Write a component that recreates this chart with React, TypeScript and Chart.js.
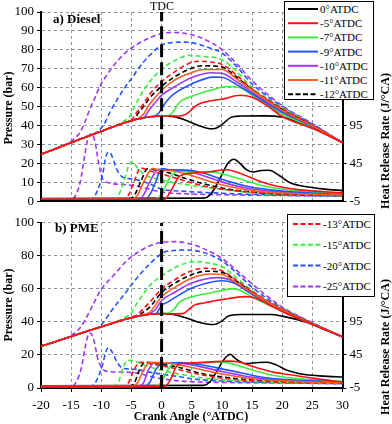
import React, { useEffect, useRef } from "react";
import { Chart, registerables } from "chart.js";

Chart.register(...registerables);

type P = [number, number];

// ---------- axes ----------
const angleRange = [-20, 30];
const angleStep = 5;
const pressureRange = [0, 100];
const pressureStep = 10;
const hrrRange = [-5, 245];
const hrrTicks = [-5, 45, 95];
const tdcAngle = 0;

// ---------- series meta ----------
const timings = ["0°ATDC", "-5°ATDC", "-7°ATDC", "-9°ATDC", "-10°ATDC", "-11°ATDC", "-12°ATDC", "-13°ATDC", "-15°ATDC", "-20°ATDC", "-25°ATDC"];
const colors = ["#000000", "#ff1010", "#3ced3c", "#2255ff", "#a035f5", "#ff5a20", "#000000", "#ff1010", "#3ced3c", "#2255ff", "#a035f5"];
const dashedFlags = [false, false, false, false, false, false, true, true, true, true, true];
const drawOrder = [9, 0, 4, 3, 5, 1, 6, 2, 7, 8, 10];

// ---------- a) Diesel : pressure (bar) ----------
const dieselCompression: P[] = [[-20, 24.8], [-18, 27.2], [-16, 29.7], [-14, 32.2], [-12, 34.6], [-10, 37], [-8, 39.4], [-6, 41.6], [-4, 43.4], [-2, 44.6], [0, 45]];
const dieselP0: P[] = [[0, 45], [2, 44.7], [4, 42.8], [6, 40.2], [8, 38.3], [9, 38.6], [10, 40.5], [11.5, 44.3], [13, 45], [17, 45.1], [20, 44.5], [22, 42.5], [24, 40], [27, 36], [30, 31]];
const dieselPm5: P[] = [[0, 45], [2, 45], [3.5, 45.3], [4.5, 47], [5.5, 50], [6.5, 51.8], [8, 53], [10, 53.9], [13, 56], [15, 55], [17.5, 50.5], [20, 44.8], [25, 38.5], [30, 31]];
const dieselPm7: P[] = [[0, 45], [1, 45.2], [1.7, 46.5], [2.3, 49], [3, 52.3], [4, 54.3], [5, 55.5], [8, 58.5], [10.8, 60.6], [13, 60], [15, 56], [20, 46], [25, 39], [30, 31]];
const dieselPm9: P[] = [[-1.5, 44.6], [-0.5, 46.5], [0, 49], [1, 53.5], [2, 56.6], [5, 62], [8.6, 65.6], [10, 65.5], [12.5, 61.5], [15, 56.7], [20, 47], [25, 39.4], [30, 31]];
const dieselPm10: P[] = [[-3, 44], [-2, 48.5], [-1, 52.3], [0, 56], [2, 60.2], [5, 65.4], [8.3, 67.9], [10, 67.6], [12.5, 63], [15, 57.5], [20, 47.5], [25, 39.6], [30, 31]];
const dieselPm11: P[] = [[-4, 43.5], [-3, 46], [-2, 51.2], [0, 58.5], [2, 63.7], [4, 66.8], [7.2, 69.6], [10, 69.6], [12.5, 64.5], [15, 58.7], [20, 48], [25, 39.8], [30, 31]];
const dieselPm12: P[] = [[-4.5, 43.3], [-4, 46], [-3, 50], [-2, 54.5], [0, 60.7], [2, 65.4], [4, 69], [6.7, 71.6], [9, 71.4], [10, 71], [12.5, 65.5], [15, 59], [20, 48.5], [25, 40], [30, 31]];
const dieselPm13: P[] = [[-5, 43], [-4, 47.5], [-3, 51.5], [-2, 56.5], [0, 63.2], [2, 68], [4, 72], [6, 74], [8, 73.6], [10, 72.3], [12.5, 66.5], [15, 59.3], [20, 49], [25, 40.2], [30, 31]];
const dieselPm15: P[] = [[-6.5, 41.8], [-5.5, 44], [-5, 46.5], [-4, 53], [-3, 58.5], [-2, 63], [0, 69.8], [2, 74], [4.5, 77], [7, 76.5], [10, 74.8], [12.5, 68.5], [15, 60], [20, 49.5], [25, 40.4], [30, 31]];
const dieselPm20: P[] = [[-11, 36], [-10.2, 38], [-9.3, 42], [-8.5, 47.5], [-7.5, 53], [-6, 60.5], [-4.7, 66], [-4, 69.5], [-2, 77], [0, 82.5], [2, 83.9], [3.6, 84.1], [5, 83.8], [7.5, 81.5], [10, 78.3], [12.5, 71], [15, 62], [20, 50], [25, 40.7], [30, 31]];
const dieselPm25: P[] = [[-14.5, 33], [-13.5, 36.5], [-12.7, 42], [-11.9, 48.7], [-11, 55], [-10.2, 61], [-9, 67], [-8, 71.5], [-6, 78.5], [-4, 83], [-2, 86.3], [0, 88.6], [2, 89.2], [5, 88], [7.5, 85], [10, 80.2], [12.5, 72.5], [15, 63.7], [20, 50.5], [25, 41], [30, 31]];

// ---------- a) Diesel : heat release rate (J/°CA) ----------
const dieselH0: P[] = [[-20, -1.5], [7, -1], [8, 3], [9.5, 22], [11, 45], [12, 50.5], [13, 45], [14, 37], [15.2, 33.5], [16.5, 35.5], [17.8, 35.8], [19.5, 29], [21.4, 19], [24.7, 13.5], [27, 11], [30, 9]];
const dieselHm5: P[] = [[-20, -2.5], [0.5, -2.5], [1.5, 8], [3, 28], [5, 32], [8, 34], [10.8, 36.5], [13, 32], [16.4, 21], [19, 15], [23, 10], [30, 6]];
const dieselHm7: P[] = [[-20, -2.5], [-1, -2.5], [0, 5], [1.5, 28], [3, 35], [5, 33], [7, 33.5], [9, 33], [11, 29], [13.6, 23], [17, 15], [22, 9], [30, 5]];
const dieselHm9: P[] = [[-20, -2.5], [-3, -2.5], [-2, 3], [-1, 20], [0, 38], [2, 36], [4, 36], [7, 32], [10, 24], [14, 15], [18, 10], [24, 6], [30, 4]];
const dieselHm10: P[] = [[-20, -2.5], [-4, -2.5], [-3, 3], [-2, 20], [-0.5, 37], [1, 36], [3, 36], [6, 31], [9, 23], [13, 14], [18, 8], [24, 5], [30, 3.5]];
const dieselHm11: P[] = [[-20, -2.5], [-5, -2.5], [-4, 3], [-3, 20], [-1.5, 38], [0, 36], [2, 35], [5, 29], [8, 21], [12, 13], [16, 8], [22, 5], [30, 3]];
const dieselHm12: P[] = [[-20, -2.5], [-5.5, -2.5], [-4.5, 3], [-3.5, 20], [-2.3, 38], [-1, 36], [1, 33], [4, 25], [7, 18], [11, 11], [15, 7], [20, 4.5], [30, 2.5]];
const dieselHm13: P[] = [[-20, -2.5], [-6.5, -2.5], [-5.5, 3], [-4.5, 22], [-3.5, 39], [-2, 35], [0, 31], [3, 24], [6, 17], [10, 11], [15, 7], [20, 4.5], [30, 2.5]];
const dieselHm15: P[] = [[-20, -2.5], [-8, -2.5], [-7.2, 2], [-6.2, 22], [-5.3, 45], [-4.8, 47], [-4.1, 40], [-3, 31], [-1, 25], [1, 21], [5, 16], [10.8, 10], [15, 6], [20, 4], [30, 2]];
const dieselHm20: P[] = [[-20, -2.5], [-12, -2.5], [-11, 3], [-9.8, 30], [-9.2, 55], [-8.8, 60], [-8.3, 56], [-7.5, 38], [-6.5, 27], [-5, 24.5], [-4, 23], [-2, 18], [0, 11], [4, 8], [8.5, 6], [15, 4], [30, 1.5]];
const dieselHm25: P[] = [[-20, -2.5], [-15, -2.5], [-14.3, 2], [-13.5, 20], [-12.7, 58], [-12.1, 81], [-11.6, 84], [-11, 72], [-10.5, 48], [-9.9, 27], [-9.1, 20], [-6.3, 17], [-3.6, 14], [0, 7], [5, 4.5], [10, 3.5], [20, 2.5], [30, 1.5]];

// ---------- b) PME : pressure (bar) ----------
const pmeCompression: P[] = [[-20, 25.3], [-18, 27.6], [-16, 30], [-14, 32.4], [-12, 34.8], [-10, 37.1], [-8, 39.4], [-6, 41.6], [-4, 43.4], [-2, 44.6], [0, 45]];
const pmeP0: P[] = [[0, 45], [2, 44.5], [4, 42.5], [6, 40], [8.6, 38.4], [10, 40.5], [11, 43.5], [13, 44.5], [18, 44.5], [20, 43.5], [24, 39.8], [27, 35.5], [30, 31]];
const pmePm5: P[] = [[0, 45], [2, 44.9], [3.5, 45], [4.5, 47.5], [5.5, 50.3], [7, 51.5], [10, 53.5], [13.9, 55.3], [15.5, 54.5], [17.5, 51], [20, 46.3], [25, 38.5], [30, 31]];
const pmePm7: P[] = [[0, 45], [1, 45.2], [2, 47.5], [3, 52], [5, 55.2], [8, 57.5], [11.7, 60], [13, 59.2], [15, 55], [20, 46.5], [25, 38.5], [30, 31]];
const pmePm9: P[] = [[-1, 44.8], [0, 50], [1, 52], [3, 56.5], [5, 60.5], [7, 63], [10, 64.9], [12, 63.5], [15, 56.7], [20, 46.8], [25, 38.6], [30, 31]];
const pmePm10: P[] = [[-2.5, 44.3], [-1, 47.5], [0, 53], [2, 57.5], [5, 63.5], [9.4, 66.8], [12, 64.5], [15, 57], [20, 47], [25, 38.7], [30, 31]];
const pmePm11: P[] = [[-3.5, 44], [-2, 45.8], [0, 55.2], [2, 60.5], [5, 66.5], [8, 69], [10, 68.7], [12.5, 63.5], [15, 57.5], [20, 47.3], [25, 38.8], [30, 31]];
const pmePm12: P[] = [[-4, 43.5], [-3, 46], [-2, 48.8], [0, 57.8], [2, 63], [4, 67], [7.5, 70.7], [10, 70], [12.5, 64.5], [15, 58], [20, 47.5], [25, 39], [30, 31]];
const pmePm13: P[] = [[-5, 43], [-4, 44.5], [-3, 48], [-2, 51.8], [0, 59.9], [2, 65], [4, 69.5], [7, 72.5], [10, 71], [12.5, 65], [15, 58.5], [20, 47.7], [25, 39], [30, 31]];
const pmePm15: P[] = [[-6.5, 42], [-5.5, 44], [-5, 45.5], [-4, 51.8], [-3, 57], [-2, 61.9], [0, 67.9], [2, 72.5], [4, 75.5], [5.6, 76.5], [8, 75.5], [10, 73.5], [12.5, 66.5], [15, 59], [20, 48], [25, 39], [30, 31]];
const pmePm20: P[] = [[-11, 36], [-10.2, 37.5], [-9.3, 41.5], [-8.5, 45.8], [-7, 53], [-6, 57.5], [-4.7, 63.9], [-2, 75], [0.3, 82], [2, 83.2], [4.2, 83.5], [7, 82], [10, 77], [12.5, 69.5], [15, 61], [20, 48.5], [25, 39.3], [30, 31]];
const pmePm25: P[] = [[-14.5, 33], [-13.5, 36.5], [-12.7, 41], [-12, 46], [-11, 53], [-10.2, 58.8], [-8, 68], [-5.8, 77], [-4, 82], [-2, 86], [0.3, 88.3], [2.2, 88.6], [5, 87], [7.5, 83.5], [10, 78.5], [12.5, 71], [15, 63], [20, 49], [25, 39.5], [30, 31]];

// ---------- b) PME : heat release rate (J/°CA) ----------
const pmeH0: P[] = [[-20, -1.5], [7, -1], [8, 4], [9, 18], [10.5, 40], [11.4, 46], [12.2, 40], [12.8, 36], [14, 32], [16, 33.5], [17.5, 34], [19, 30], [20.8, 22], [24, 15], [27, 13], [30, 11.6]];
const pmeHm5: P[] = [[-20, -2.5], [0.5, -2.5], [1.5, 8], [2.3, 25], [3, 31.7], [5, 33], [8, 34.5], [11, 35.7], [13, 34], [14, 31], [16.4, 24], [18.5, 19], [21.4, 15], [25, 10], [30, 4]];
const pmeHm7: P[] = [[-20, -2.5], [-1, -2.5], [0, 5], [1.2, 25], [2, 32], [3, 34], [5, 32], [7, 33], [9.5, 34], [11, 33], [13, 28], [15.5, 21], [18.6, 14], [23, 9], [30, 5]];
const pmeHm9: P[] = [[-20, -2.5], [-3, -2.5], [-2, 3], [-1, 22], [0, 32], [3, 33], [6, 31], [11, 22], [17, 11], [23, 6.5], [30, 4]];
const pmeHm10: P[] = [[-20, -2.5], [-4, -2.5], [-3, 3], [-2.2, 22], [-1.2, 33], [2, 33], [5, 30], [10, 20], [16, 10], [22, 6], [30, 3.5]];
const pmeHm11: P[] = [[-20, -2.5], [-5, -2.5], [-4, 3], [-3, 22], [-2, 34], [1, 33], [4, 28], [9, 18], [15, 9], [22, 5], [30, 3]];
const pmeHm12: P[] = [[-20, -2.5], [-5.5, -2.5], [-4.5, 3], [-3.7, 22], [-2.8, 34], [0, 31], [3, 26], [7, 16], [14, 8], [20, 5], [30, 3]];
const pmeHm13: P[] = [[-20, -2.5], [-6.5, -2.5], [-5.5, 3], [-4.6, 22], [-3.6, 34], [-1.5, 31], [1, 27], [5, 18], [10, 10], [20, 4], [30, 2.5]];
const pmeHm15: P[] = [[-20, -2.5], [-8, -2.5], [-7.2, 3], [-6.4, 25], [-5.7, 37], [-4.5, 36], [-3.5, 32], [-2, 27], [0, 22], [3, 16], [7, 10], [15, 5], [30, 2]];
const pmeHm20: P[] = [[-20, -2.5], [-12, -2.5], [-11, 3], [-9.8, 30], [-9.2, 51], [-8.8, 56], [-8.3, 51], [-7.5, 36], [-6.5, 25], [-5, 23.5], [-4, 23], [-2, 19], [0, 16], [3, 12], [6, 8], [12, 5], [20, 3], [30, 1.5]];
const pmeHm25: P[] = [[-20, -2.5], [-15, -2.5], [-14.3, 2], [-13.4, 22], [-12.7, 55], [-12.2, 75], [-11.8, 78], [-11.2, 66], [-10.6, 40], [-9.8, 24], [-9, 20], [-6, 19], [-4, 17.5], [-2, 13], [0, 9], [4, 5], [10, 3.5], [20, 2.5], [30, 1.5]];

const dieselPressure = [dieselP0, dieselPm5, dieselPm7, dieselPm9, dieselPm10, dieselPm11, dieselPm12, dieselPm13, dieselPm15, dieselPm20, dieselPm25];
const dieselHrr = [dieselH0, dieselHm5, dieselHm7, dieselHm9, dieselHm10, dieselHm11, dieselHm12, dieselHm13, dieselHm15, dieselHm20, dieselHm25];
const pmePressure = [pmeP0, pmePm5, pmePm7, pmePm9, pmePm10, pmePm11, pmePm12, pmePm13, pmePm15, pmePm20, pmePm25];
const pmeHrr = [pmeH0, pmeHm5, pmeHm7, pmeHm9, pmeHm10, pmeHm11, pmeHm12, pmeHm13, pmeHm15, pmeHm20, pmeHm25];

const FONT = '"Liberation Serif", "Times New Roman", serif';
const GRID = "#8595a5";

function withCompression(comp: P[], pts: P[]) {
  const start = pts[0][0];
  return comp.filter((p) => p[0] < start).concat(pts).map(([x, y]) => ({ x, y }));
}

function buildConfig(compression: P[], pressure: P[][], hrr: P[][], showX: boolean, padTop: number, xHeight: number): any {
  const datasets: any[] = [
    {
      data: [{ x: tdcAngle, y: pressureRange[0] }, { x: tdcAngle, y: pressureRange[1] }],
      borderColor: "#000",
      borderWidth: 3,
      borderDash: [13, 5],
      pointRadius: 0,
      tension: 0,
      order: -1,
      yAxisID: "y",
    },
  ];
  timings.forEach((_, i) => {
    const common = {
      borderColor: colors[i],
      borderWidth: 1.6,
      borderDash: dashedFlags[i] ? [5, 3] : [],
      pointRadius: 0,
      cubicInterpolationMode: "monotone",
      fill: false,
      order: drawOrder[i],
    };
    datasets.push({ ...common, data: withCompression(compression, pressure[i]), yAxisID: "y" });
    datasets.push({ ...common, data: hrr[i].map(([x, y]) => ({ x, y })), yAxisID: "y1" });
  });
  const tickFont = { family: FONT, size: 13 };
  return {
    type: "line",
    data: { datasets },
    options: {
      responsive: false,
      animation: false,
      events: [],
      layout: { padding: { top: padTop, left: 0, right: 0, bottom: 0 } },
      plugins: { legend: { display: false }, tooltip: { enabled: false } },
      scales: {
        x: {
          type: "linear",
          min: angleRange[0],
          max: angleRange[1],
          ticks: { stepSize: angleStep, display: showX, font: tickFont, color: "#000", padding: 6, maxRotation: 0 },
          grid: { color: GRID, lineWidth: 1, drawTicks: showX, tickLength: 4, tickColor: "#000" },
          border: { color: "#000", width: 2, dash: [3, 3] },
          afterFit: (s: any) => {
            s.height = xHeight;
          },
        },
        y: {
          type: "linear",
          position: "left",
          min: pressureRange[0],
          max: pressureRange[1],
          ticks: { stepSize: pressureStep, font: tickFont, color: "#000", padding: 3 },
          grid: { color: GRID, lineWidth: 1, tickLength: 4, tickColor: "#000" },
          border: { color: "#000", width: 2, dash: [3, 3] },
          afterFit: (s: any) => {
            s.width = 41;
          },
        },
        y1: {
          type: "linear",
          position: "right",
          min: hrrRange[0],
          max: hrrRange[1],
          afterBuildTicks: (s: any) => {
            s.ticks = hrrTicks.map((v) => ({ value: v }));
          },
          ticks: { font: tickFont, color: "#000", padding: 3 },
          grid: { drawOnChartArea: false, tickLength: 4, tickColor: "#000" },
          border: { color: "#000", width: 2 },
          afterFit: (s: any) => {
            s.width = 49.5;
          },
        },
      },
    },
  };
}

function ChartCanvas(props: { top: number; height: number; config: any }) {
  const ref = useRef<HTMLCanvasElement | null>(null);
  useEffect(() => {
    if (!ref.current) return;
    const chart = new Chart(ref.current, props.config);
    return () => chart.destroy();
  }, []);
  return (
    <canvas
      ref={ref}
      width={392}
      height={props.height}
      style={{ position: "absolute", left: 0, top: props.top, width: 392, height: props.height }}
    />
  );
}

function Legend(props: { left: number; top: number; width: number; height: number; items: number[]; rowStart: number; rowStep: number; lineX1: number; lineX2: number; textX: number }) {
  const { left, top, width, height, items, rowStart, rowStep, lineX1, lineX2, textX } = props;
  return (
    <div style={{ position: "absolute", left, top, width, height, background: "#fff", border: "1px solid #000", boxSizing: "border-box" }}>
      <svg width={width} height={height} style={{ position: "absolute", left: -1, top: -1 }}>
        {items.map((idx, r) => (
          <line
            key={idx}
            x1={lineX1 - left}
            x2={lineX2 - left}
            y1={rowStart + r * rowStep - top}
            y2={rowStart + r * rowStep - top}
            stroke={colors[idx]}
            strokeWidth={2}
            strokeDasharray={dashedFlags[idx] ? "5 2.5" : undefined}
          />
        ))}
      </svg>
      {items.map((idx, r) => (
        <div
          key={idx}
          style={{
            position: "absolute",
            left: textX - left - 1,
            top: rowStart + r * rowStep - top - 1,
            transform: "translateY(-50%)",
            fontFamily: FONT,
            fontSize: 11,
            lineHeight: "12px",
            whiteSpace: "nowrap",
            color: "#000",
          }}
        >
          {timings[idx]}
        </div>
      ))}
    </div>
  );
}

function Label(props: { x: number; y: number; text: string; size: number; bold?: boolean; rotate?: boolean; anchor?: "left" | "center" }) {
  const { x, y, text, size, bold, rotate, anchor } = props;
  const tx = anchor === "left" ? "0" : "-50%";
  return (
    <div
      style={{
        position: "absolute",
        left: x,
        top: y,
        transform: `translate(${tx}, -50%)${rotate ? " rotate(-90deg)" : ""}`,
        transformOrigin: anchor === "left" ? "left center" : "center center",
        fontFamily: FONT,
        fontSize: size,
        fontWeight: bold ? "bold" : "normal",
        lineHeight: 1,
        whiteSpace: "nowrap",
        color: "#000",
      }}
    >
      {text}
    </div>
  );
}

export default function App() {
  const topConfig = buildConfig(dieselCompression, dieselPressure, dieselHrr, false, 12, 9);
  const bottomConfig = buildConfig(pmeCompression, pmePressure, pmeHrr, true, 10, 36);
  return (
    <div style={{ position: "fixed", left: 0, top: 0, width: 392, height: 424, background: "#fff", overflow: "hidden" }}>
      <ChartCanvas top={0} height={212} config={topConfig} />
      <ChartCanvas top={212} height={212} config={bottomConfig} />
      <Label x={162} y={6} text="TDC" size={12} />
      <Label x={53} y={18} text="a) Diesel" size={13} bold anchor="left" />
      <Label x={55} y={227} text="b) PME" size={13} bold anchor="left" />
      <Label x={8} y={108} text="Pressure (bar)" size={12} bold rotate />
      <Label x={8} y={305} text="Pressure (bar)" size={12} bold rotate />
      <Label x={385} y={141} text="Heat Release Rate (J/°CA)" size={12} bold rotate />
      <Label x={385} y={347} text="Heat Release Rate (J/°CA)" size={12} bold rotate />
      <Label x={191} y={416} text="Crank Angle (°ATDC)" size={12} bold />
      <Legend left={284} top={1} width={90} height={99} items={[0, 1, 2, 3, 4, 5, 6]} rowStart={9} rowStep={14.2} lineX1={288} lineX2={318} textX={320} />
      <Legend left={287} top={214} width={88} height={83} items={[7, 8, 9, 10]} rowStart={224} rowStep={20.8} lineX1={293} lineX2={322} textX={323} />
    </div>
  );
}
